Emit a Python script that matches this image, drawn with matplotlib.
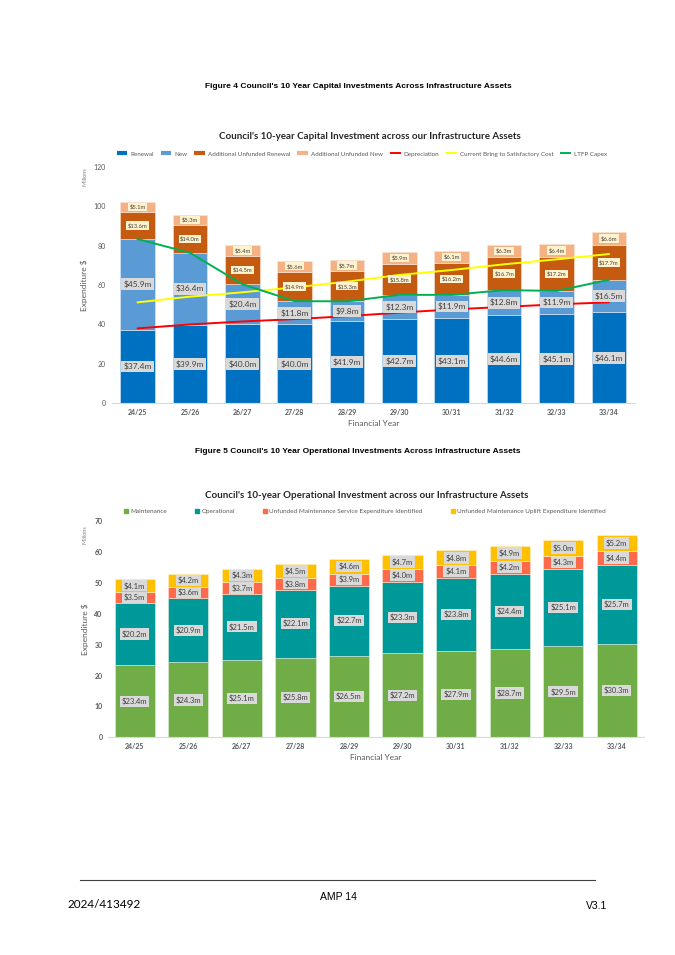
import numpy as np
import matplotlib.pyplot as plt
from matplotlib.lines import Line2D

years = ['24/25', '25/26', '26/27', '27/28', '28/29', '29/30', '30/31', '31/32', '32/33', '33/34']

# capital investment ($m)
renewal = [37.4, 39.9, 40.0, 40.0, 41.9, 42.7, 43.1, 44.6, 45.1, 46.1]
new = [45.9, 36.4, 20.4, 11.8, 9.8, 12.3, 11.9, 12.8, 11.9, 16.5]
unf_renewal = [13.6, 14.0, 14.5, 14.9, 15.3, 15.8, 16.2, 16.7, 17.2, 17.7]
unf_new = [5.1, 5.3, 5.4, 5.6, 5.7, 5.9, 6.1, 6.3, 6.4, 6.6]
depreciation = [38.0, 40.0, 41.5, 42.7, 44.2, 46.0, 47.6, 48.9, 50.2, 51.2]
bring_to_sat = [51.2, 54.1, 56.3, 58.8, 61.7, 65.1, 67.6, 70.5, 73.0, 75.7]
ltfp_capex = [83.3, 76.3, 60.4, 51.8, 51.7, 55.0, 55.0, 57.4, 57.0, 62.6]

# operational investment ($m)
maintenance = [23.4, 24.3, 25.1, 25.8, 26.5, 27.2, 27.9, 28.7, 29.5, 30.3]
operational = [20.2, 20.9, 21.5, 22.1, 22.7, 23.3, 23.8, 24.4, 25.1, 25.7]
unf_service = [3.5, 3.6, 3.7, 3.8, 3.9, 4.0, 4.1, 4.2, 4.3, 4.4]
unf_uplift = [4.1, 4.2, 4.3, 4.5, 4.6, 4.7, 4.8, 4.9, 5.0, 5.2]

W, H = 675, 955
fig = plt.figure(figsize=(W / 100, H / 100), dpi=100)
CH = 'Lato'
AR = 'Liberation Sans'
GREY = '#595959'


def ax_px(left, top, right, bottom):
    return fig.add_axes([left / W, 1 - bottom / H, (right - left) / W, (bottom - top) / H])


def seg_labels(ax, x, bottoms, vals, size, fc):
    for xi, b, v in zip(x, bottoms, vals):
        ax.text(xi, b + v / 2, f'${v:.1f}m', ha='center', va='center', fontsize=size,
                color='#404040', family=CH, zorder=5,
                bbox=dict(boxstyle='square,pad=0.25', fc=fc, ec='none'))


def style_axes(ax, ymax, step, bold):
    ax.set_xlim(-0.5, 9.5)
    ax.set_ylim(0, ymax)
    ax.set_yticks(np.arange(0, ymax + 1, step))
    ax.set_xticks(x)
    ax.set_xticklabels(years)
    for s in ['top', 'right', 'left']:
        ax.spines[s].set_visible(False)
    ax.spines['bottom'].set_color('#D9D9D9')
    ax.tick_params(length=0, labelsize=5, colors=GREY, pad=4)
    for t in ax.get_xticklabels():
        t.set_fontweight('bold')
        t.set_family(CH)
    for t in ax.get_yticklabels():
        t.set_family(CH)
        if bold:
            t.set_fontweight('bold')
    ax.set_xlabel('Financial Year', fontsize=6, color=GREY, family=CH, labelpad=3)
    ax.set_ylabel('Expenditure $', fontsize=6, color=GREY, family=CH, labelpad=4)


x = np.arange(len(years))

# ---- captions
fig.text(358 / W, 1 - 87 / H, "Figure 4 Council's 10 Year Capital Investments Across Infrastructure Assets",
         ha='center', va='center', fontsize=6, weight='bold', family=AR)
fig.text(358 / W, 1 - 451 / H, "Figure 5 Council's 10 Year Operational Investments Across Infrastructure Assets",
         ha='center', va='center', fontsize=6, weight='bold', family=AR)

# ---- capital chart
ax1 = ax_px(111.5, 166.7, 635, 403.3)
bw = 0.66
c_ren, c_new, c_ur, c_un = '#0070C0', '#5B9BD5', '#C55A11', '#F4B183'
b1 = np.array(renewal)
b2 = b1 + np.array(new)
b3 = b2 + np.array(unf_renewal)
ax1.bar(x, renewal, bw, color=c_ren, edgecolor='#DDEBF7', linewidth=0.4)
ax1.bar(x, new, bw, bottom=b1, color=c_new, edgecolor='#DDEBF7', linewidth=0.4)
ax1.bar(x, unf_renewal, bw, bottom=b2, color=c_ur, edgecolor='#FBE5D6', linewidth=0.4)
ax1.bar(x, unf_new, bw, bottom=b3, color=c_un, edgecolor='#FBE5D6', linewidth=0.4)
ax1.plot(x, depreciation, color='#FF0000', lw=1.4, zorder=3)
ax1.plot(x, bring_to_sat, color='#FFFF00', lw=1.4, zorder=3)
ax1.plot(x, ltfp_capex, color='#00B050', lw=1.4, zorder=3)
seg_labels(ax1, x, np.zeros(10), renewal, 6, '#D9D9D9')
seg_labels(ax1, x, b1, new, 6, '#D9D9D9')
seg_labels(ax1, x, b2, unf_renewal, 4.2, '#FFF2CC')
seg_labels(ax1, x, b3, unf_new, 4.2, '#FFF2CC')
style_axes(ax1, 120, 20, False)
fig.text(85 / W, 1 - 177 / H, 'Millions', rotation=90, ha='center', va='center',
         fontsize=4, color='#7F7F7F', family=CH)

fig.text(370 / W, 1 - 136 / H, "Council's 10-year Capital Investment across our Infrastructure Assets",
         ha='center', va='center', fontsize=7, weight='bold', family=CH, color='#262626')
h1 = [Line2D([], [], color=c, lw=lw, solid_capstyle='butt') for c, lw in
      [(c_ren, 3), (c_new, 3), (c_ur, 3), (c_un, 3), ('#FF0000', 1.4), ('#FFFF00', 1.4), ('#00B050', 1.4)]]
l1 = ['Renewal', 'New', 'Additional Unfunded Renewal', 'Additional Unfunded New',
      'Depreciation', 'Current Bring to Satisfactory Cost', 'LTFP Capex']
fig.legend(h1, l1, loc='center', bbox_to_anchor=(362 / W, 1 - 154 / H), ncol=7, frameon=False,
           prop={'family': CH, 'size': 4.5}, labelcolor=GREY, handlelength=1.7,
           handletextpad=0.5, columnspacing=1.1)

# ---- operational chart
ax2 = ax_px(108, 521.5, 643.5, 737.3)
bw2 = 0.75
c_m, c_o, c_s, c_u = '#70AD47', '#009999', '#FF6B4A', '#FFC000'
d1 = np.array(maintenance)
d2 = d1 + np.array(operational)
d3 = d2 + np.array(unf_service)
ax2.bar(x, maintenance, bw2, color=c_m, edgecolor='#E2EFDA', linewidth=0.4)
ax2.bar(x, operational, bw2, bottom=d1, color=c_o, edgecolor='#E2EFDA', linewidth=0.4)
ax2.bar(x, unf_service, bw2, bottom=d2, color=c_s, edgecolor='#FCE4D6', linewidth=0.4)
ax2.bar(x, unf_uplift, bw2, bottom=d3, color=c_u, edgecolor='#FFF2CC', linewidth=0.4)
seg_labels(ax2, x, np.zeros(10), maintenance, 5.5, '#D9D9D9')
seg_labels(ax2, x, d1, operational, 5.5, '#D9D9D9')
seg_labels(ax2, x, d2, unf_service, 5.5, '#D9D9D9')
seg_labels(ax2, x, d3, unf_uplift, 5.5, '#D9D9D9')
style_axes(ax2, 70, 10, True)
fig.text(85 / W, 1 - 535 / H, 'Millions', rotation=90, ha='center', va='center',
         fontsize=4, color='#7F7F7F', family=CH)

fig.text(367 / W, 1 - 495 / H, "Council's 10-year Operational Investment across our Infrastructure Assets",
         ha='center', va='center', fontsize=7, weight='bold', family=CH, color='#262626')
h2 = [Line2D([], [], color=c, marker='s', ls='none', ms=3.5) for c in [c_m, c_o, c_s, c_u]]
l2 = ['Maintenance', 'Operational', 'Unfunded Maintenance Service Expenditure Identified',
      'Unfunded Maintenance Uplift Expenditure Identified']
fig.legend(h2, l2, loc='center', bbox_to_anchor=(365 / W, 1 - 511 / H), ncol=4, frameon=False,
           prop={'family': CH, 'size': 4.6}, labelcolor=GREY, handlelength=0.6,
           handletextpad=0.3, columnspacing=4.5)

# ---- footer
fig.add_artist(Line2D([80 / W, 595 / W], [1 - 880 / H, 1 - 880 / H], color='#404040', lw=0.8))
fig.text(338 / W, 1 - 897 / H, 'AMP 14', ha='center', va='center', fontsize=7.5, family=AR)
fig.text(67 / W, 1 - 905 / H, '2024/413492', ha='left', va='center', fontsize=8.5, family=CH)
fig.text(607 / W, 1 - 906 / H, 'V3.1', ha='right', va='center', fontsize=7.5, family=AR)

fig.savefig('out.png', dpi=100)
